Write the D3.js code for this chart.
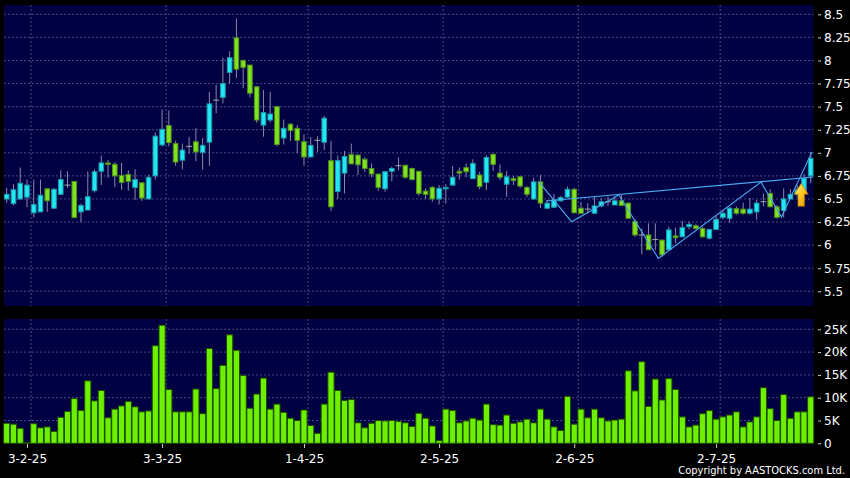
<!DOCTYPE html>
<html><head><meta charset="utf-8">
<script src="https://cdn.jsdelivr.net/npm/d3@7"></script>
<style>html,body{margin:0;padding:0;background:#000;}svg{display:block;}</style>
</head><body>
<svg id="c" width="850" height="478"></svg>
<script>
const opens = [6.50,6.45,6.50,6.52,6.35,6.36,6.61,6.40,6.55,6.65,
6.69,6.36,6.38,6.59,6.80,6.89,6.875,6.755,6.765,6.625,
6.675,6.50,6.75,7.085,7.295,7.10,6.92,7.07,7.12,7.005,
7.115,7.57,7.60,7.87,8.245,8.00,7.95,7.715,7.30,7.355,
7.50,7.16,7.31,7.265,7.12,6.955,7.135,7.115,6.915,6.58,
6.78,6.98,6.975,6.93,6.83,6.77,6.61,6.80,6.86,6.865,
6.83,6.80,6.585,6.625,6.50,6.61,6.65,6.80,6.84,6.72,
6.76,6.68,6.985,6.78,6.66,6.72,6.74,6.625,6.50,6.685,
6.40,6.41,6.48,6.52,6.605,6.40,6.39,6.345,6.425,6.47,
6.435,6.48,6.455,6.255,6.11,6.11,6.06,6.055,5.95,6.10,
6.09,6.20,6.21,6.18,6.075,6.17,6.30,6.29,6.395,6.39,
6.345,6.36,6.47,6.56,6.415,6.375,6.50,6.55,6.56,6.75];
const highs = [6.62,6.66,6.84,6.71,6.71,6.71,6.61,6.62,6.81,6.80,
6.69,6.45,6.80,6.82,6.97,6.92,6.90,6.89,6.81,6.82,
6.675,6.76,7.22,7.47,7.46,7.13,7.10,7.17,7.265,7.16,
7.66,7.735,8.03,8.10,8.455,8.01,7.95,7.72,7.68,7.66,
7.50,7.36,7.32,7.30,7.20,7.17,7.18,7.40,7.13,6.97,
7.02,7.10,6.98,6.95,6.885,6.77,6.80,6.85,6.95,6.87,
6.84,6.80,6.615,6.64,6.65,6.66,6.855,6.84,6.885,6.93,
6.795,6.975,6.985,6.875,6.805,6.75,6.745,6.64,6.73,6.76,
6.49,6.555,6.53,6.635,6.62,6.47,6.455,6.525,6.51,6.525,
6.53,6.545,6.46,6.28,6.18,6.235,6.235,6.06,6.20,6.19,
6.26,6.255,6.225,6.20,6.17,6.315,6.38,6.415,6.42,6.46,
6.51,6.49,6.56,6.605,6.435,6.615,6.605,6.65,6.77,7.01];
const lows = [6.46,6.43,6.49,6.41,6.30,6.36,6.36,6.39,6.55,6.62,
6.29,6.25,6.38,6.57,6.65,6.73,6.63,6.60,6.59,6.49,
6.48,6.50,6.71,7.07,7.07,6.86,6.82,6.99,6.91,6.82,
6.86,7.43,7.535,7.75,7.81,7.70,7.60,7.325,7.175,7.33,
7.07,7.09,7.13,7.00,6.86,6.955,7.01,7.03,6.37,6.50,
6.56,6.88,6.76,6.79,6.735,6.59,6.58,6.69,6.81,6.72,
6.70,6.535,6.50,6.47,6.44,6.45,6.65,6.71,6.735,6.72,
6.605,6.595,6.805,6.705,6.52,6.65,6.62,6.52,6.49,6.40,
6.39,6.41,6.47,6.51,6.345,6.34,6.345,6.345,6.41,6.425,
6.435,6.43,6.29,6.09,5.90,5.95,5.945,5.87,5.945,6.02,
6.09,6.17,6.17,6.08,6.06,6.17,6.28,6.245,6.33,6.33,
6.33,6.275,6.42,6.41,6.29,6.30,6.50,6.52,6.56,6.67];
const closes = [6.55,6.60,6.67,6.65,6.44,6.54,6.48,6.605,6.71,6.65,
6.30,6.43,6.525,6.795,6.89,6.875,6.75,6.68,6.69,6.71,
6.51,6.735,7.18,7.255,7.11,6.90,7.03,7.07,7.01,7.08,
7.53,7.57,7.75,8.03,7.905,7.925,7.645,7.355,7.435,7.42,
7.09,7.265,7.24,7.135,6.955,7.08,7.135,7.375,6.415,6.915,
6.96,6.88,6.87,6.83,6.77,6.625,6.795,6.83,6.86,6.735,
6.71,6.56,6.55,6.50,6.615,6.625,6.735,6.78,6.795,6.885,
6.635,6.95,6.875,6.735,6.74,6.70,6.64,6.55,6.685,6.455,
6.455,6.49,6.515,6.605,6.35,6.345,6.39,6.425,6.47,6.47,
6.48,6.43,6.29,6.11,6.11,5.95,6.06,5.895,6.165,6.08,
6.19,6.225,6.18,6.09,6.17,6.28,6.345,6.40,6.345,6.345,
6.39,6.455,6.47,6.415,6.30,6.50,6.55,6.60,6.725,6.94];
const volumes = [4400,4200,3300,200,4300,3400,3600,2600,5700,7000,
9800,7200,13700,9300,11600,5600,7500,8200,9200,8000,
6900,7100,21400,25900,11800,6900,6900,6900,11900,6500,
20800,12000,17100,23800,20400,14900,7700,10800,14300,7500,
8600,6800,5500,5000,7300,3900,2200,8600,15600,11600,
9400,9600,4500,3400,4400,5000,4900,5000,4800,4500,
3700,6600,5500,3800,600,7500,7200,4500,4900,5500,
5100,8600,4100,4000,6200,4400,4700,5300,4500,7500,
5300,3600,2800,10300,4200,7500,5600,7500,5600,4900,
5100,5300,15900,11500,17900,8100,14100,9500,14200,11800,
5800,3600,4000,6500,7200,5300,5800,6200,6900,3600,
4700,5800,12200,7600,5000,10700,5500,6900,6900,10200];
const priceTicks = [8.5,8.25,8,7.75,7.5,7.25,7,6.75,6.5,6.25,6,5.75,5.5];
const priceTickLabels = ["8.5","8.25","8","7.75","7.5","7.25","7","6.75","6.5","6.25","6","5.75","5.5"];
const volTicks = [0,5000,10000,15000,20000,25000];
const volTickLabels = ["0","5K","10K","15K","20K","25K"];
const monthTickIndex = [3,23,44,64,84,105];
const monthLabels = ["3-2-25","3-3-25","1-4-25","2-5-25","2-6-25","2-7-25"];
// trend-line annotations in (bar index, price)
const zigzagIdx = [78.7,83.6,90.6,96.45,111.65,114.67,119.2];
const zigzagPrice = [6.69,6.254,6.543,5.857,6.682,6.305,7.01];
const longLineIdx = [79.8,119.4];
const longLinePrice = [6.478,6.738];
const arrowIdx = 117.6, arrowTop = 6.67, arrowBottom = 6.42;

const N = closes.length;
const svg = d3.select("#c");
const x = d3.scaleLinear().domain([0, N-1]).range([6.7, 810.7]);
const y = d3.scaleLinear().domain([5.5, 8.5]).range([291.3, 14.3]);
const yv = d3.scaleLinear().domain([0, 25000]).range([443.3, 329.3]);
const P = {l:4, r:813.5, t:5, b:306}, V = {t:319, b:444};
const navy = "#000042", grid = "#4a4a8c";

svg.append("rect").attr("x",P.l).attr("y",P.t).attr("width",P.r-P.l).attr("height",P.b-P.t).attr("fill",navy);
svg.append("rect").attr("x",P.l).attr("y",V.t).attr("width",P.r-P.l).attr("height",V.b-V.t).attr("fill",navy);

const g = svg.append("g").attr("stroke",grid).attr("stroke-dasharray","2,2").attr("stroke-width",1);
priceTicks.forEach(t=>g.append("line").attr("x1",P.l).attr("x2",P.r).attr("y1",y(t)).attr("y2",y(t)));
volTicks.filter(t=>t>0).forEach(t=>g.append("line").attr("x1",P.l).attr("x2",P.r).attr("y1",yv(t)).attr("y2",yv(t)));
monthTickIndex.forEach(i=>{
  const xx = x(i+0.6);
  g.append("line").attr("x1",xx).attr("x2",xx).attr("y1",P.t).attr("y2",P.b);
  g.append("line").attr("x1",xx).attr("x2",xx).attr("y1",V.t).attr("y2",V.b);
});

// candles
const cg = svg.append("g");
for (let i=0;i<N;i++){
  const o=opens[i], c=closes[i], h=highs[i], l=lows[i];
  const xc = x(i);
  cg.append("line").attr("x1",xc).attr("x2",xc).attr("y1",y(h)).attr("y2",y(l)).attr("stroke","#8a8aa8").attr("stroke-width",1);
  if (o===c){
    cg.append("line").attr("x1",xc-3).attr("x2",xc+3).attr("y1",y(o)).attr("y2",y(o)).attr("stroke","#a8a8b8").attr("stroke-width",1);
  } else {
    const up = c>o;
    const top = y(Math.max(o,c)), bot = y(Math.min(o,c));
    cg.append("rect").attr("x",xc-2.3).attr("width",4.6).attr("y",top).attr("height",Math.max(1,bot-top))
      .attr("fill", up ? "#22e6f2" : "#7fe11f")
      .attr("stroke", up ? "#1a9aaa" : "#4f8f1a").attr("stroke-width",1);
  }
}

// volume bars
svg.append("g").selectAll("rect").data(volumes).join("rect")
  .attr("x",(d,i)=>x(i)-3.1).attr("width",6.2)
  .attr("y",d=>yv(d)).attr("height",d=>yv(0)-yv(d))
  .attr("fill","#6cf000").attr("stroke","#1d4a00").attr("stroke-width",1);

// trend lines
const line = d3.line().x(d=>x(d[0])).y(d=>y(d[1]));
svg.append("path").attr("d",line(zigzagIdx.map((v,i)=>[v,zigzagPrice[i]])))
  .attr("fill","none").attr("stroke","#4aaaf0").attr("stroke-width",1.1);
svg.append("path").attr("d",line(longLineIdx.map((v,i)=>[v,longLinePrice[i]])))
  .attr("fill","none").attr("stroke","#4aaaf0").attr("stroke-width",1.1);

// arrow
const defs = svg.append("defs");
const lg = defs.append("linearGradient").attr("id","ag").attr("x1","0").attr("y1","0").attr("x2","1").attr("y2","1");
lg.append("stop").attr("offset","0").attr("stop-color","#fff27a");
lg.append("stop").attr("offset","0.5").attr("stop-color","#ffc61e");
lg.append("stop").attr("offset","1").attr("stop-color","#d88a00");
{
  const cx = x(arrowIdx), ty = y(arrowTop), by = y(arrowBottom), hh = 11;
  const p = d3.path();
  p.moveTo(cx,ty); p.lineTo(cx+7,ty+hh); p.lineTo(cx+3.3,ty+hh); p.lineTo(cx+3.3,by);
  p.lineTo(cx-3.3,by); p.lineTo(cx-3.3,ty+hh); p.lineTo(cx-7,ty+hh); p.closePath();
  svg.append("path").attr("d",p.toString()).attr("fill","url(#ag)").attr("stroke","#a86a00").attr("stroke-width",0.6);
}

// axes
const font = "DejaVu Sans, sans-serif";
const ay = svg.append("g").attr("transform",`translate(${P.r+4.5},0)`)
  .call(d3.axisRight(y).tickValues(priceTicks).tickFormat((d,i)=>priceTickLabels[i]).tickSize(3).tickPadding(3));
const av = svg.append("g").attr("transform",`translate(${P.r+4.5},0)`)
  .call(d3.axisRight(yv).tickValues(volTicks).tickFormat((d,i)=>volTickLabels[i]).tickSize(3).tickPadding(3));
const ax = svg.append("g").attr("transform",`translate(0,${V.b})`)
  .call(d3.axisBottom(x).tickValues(monthTickIndex).tickFormat((d,i)=>monthLabels[i]).tickSize(4).tickPadding(6));
[ay,av,ax].forEach(a=>{
  a.select(".domain").remove();
  a.selectAll("line").attr("stroke","#cccccc");
  a.selectAll("text").attr("fill","#ffffff").style("font-family",font).style("font-size","12px");
});

svg.append("text").attr("x",845).attr("y",474).attr("text-anchor","end")
  .attr("fill","#ffffff").style("font-family","DejaVu Sans Condensed, DejaVu Sans, sans-serif").style("font-size","11px")
  .text("Copyright by AASTOCKS.com Ltd.");
</script>
</body></html>
